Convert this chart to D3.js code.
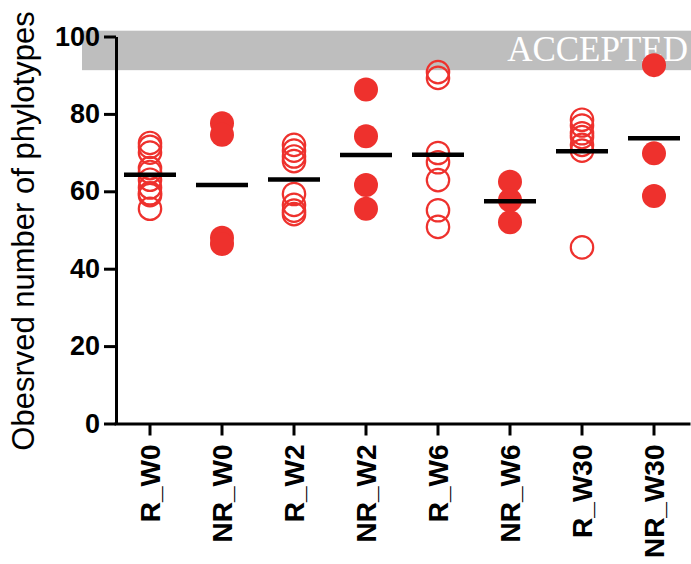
<!DOCTYPE html>
<html>
<head>
<meta charset="utf-8">
<script src="https://cdn.jsdelivr.net/npm/d3@7"></script>
<style>
  html, body { margin: 0; padding: 0; background: #fff; }
  svg { display: block; }
</style>
</head>
<body>
<svg id="chart" width="691" height="564"></svg>
<script>
// Groups along the x axis
const groups = ["R_W0", "NR_W0", "R_W2", "NR_W2", "R_W6", "NR_W6", "R_W30", "NR_W30"];
// Observed phylotype counts per sample, one array per group
const vR_W0   = [72.5, 71.5, 70, 66, 65, 63, 61, 59.5, 59, 55.5];
const vNR_W0  = [77.6, 74.6, 48, 46.4];
const vR_W2   = [72, 70.5, 69, 67.8, 59.3, 56.5, 55, 54.1];
const vNR_W2  = [86.3, 74.2, 61.6, 55.5];
const vR_W6   = [90.8, 89.3, 69.9, 67.5, 62.9, 55.1, 50.8];
const vNR_W6  = [62.5, 57.7, 52.0];
const vR_W30  = [78.5, 77, 75, 74, 72, 70.5, 45.5];
const vNR_W30 = [92.6, 69.8, 58.8];
const groupValues = [vR_W0, vNR_W0, vR_W2, vNR_W2, vR_W6, vNR_W6, vR_W30, vNR_W30];
// Responders drawn as open circles, non-responders filled
const filled = [false, true, false, true, false, true, false, true];
const yTicks = [0, 20, 40, 60, 80, 100];
// Shaded acceptance band (value range)
const bandRange = [91.3, 101.5];
const bandLabel = "ACCEPTED";

const red = "#ee312d";
const svg = d3.select("#chart");

const axisX = 116;
const x = d3.scaleBand().domain(groups).range([114, 690]);
const y = d3.scaleLinear().domain([0, 100]).range([423.5, 36.5]);

// acceptance band
svg.append("rect")
  .attr("x", axisX - 34)
  .attr("y", y(bandRange[1]))
  .attr("width", 691 - (axisX - 34))
  .attr("height", y(bandRange[0]) - y(bandRange[1]))
  .attr("fill", "#bebebe");
svg.append("text")
  .attr("x", 688)
  .attr("y", y((bandRange[0] + bandRange[1]) / 2) + 11)
  .attr("text-anchor", "end")
  .attr("font-family", "'Liberation Serif', 'Times New Roman', serif")
  .attr("font-size", 35)
  .attr("fill", "#ffffff")
  .text(bandLabel);

// y axis
const yAxis = svg.append("g")
  .attr("transform", `translate(${axisX},0)`)
  .call(d3.axisLeft(y).tickValues(yTicks).tickSize(12).tickSizeOuter(0).tickPadding(4));
yAxis.select(".domain").attr("stroke", "#000").attr("stroke-width", 3);
yAxis.selectAll(".tick line").attr("stroke", "#000").attr("stroke-width", 3);
yAxis.selectAll(".tick text")
  .attr("font-family", "'Liberation Sans', Arial, sans-serif")
  .attr("font-weight", "bold")
  .attr("font-size", 27)
  .attr("fill", "#000");

// x axis
const xAxis = svg.append("g")
  .attr("transform", `translate(0,${y(0)})`)
  .call(d3.axisBottom(x).tickSize(12).tickSizeOuter(0));
xAxis.select(".domain").attr("stroke", "#000").attr("stroke-width", 3);
xAxis.selectAll(".tick line").attr("stroke", "#000").attr("stroke-width", 3);
xAxis.selectAll(".tick text")
  .attr("font-family", "'Liberation Sans', Arial, sans-serif")
  .attr("font-weight", "bold")
  .attr("font-size", 28)
  .attr("fill", "#000")
  .attr("text-anchor", "end")
  .attr("transform", "rotate(-90)")
  .attr("x", -21)
  .attr("y", 0)
  .attr("dy", "0.36em");

// y axis title
svg.append("text")
  .attr("transform", `translate(34,${231}) rotate(-90)`)
  .attr("text-anchor", "middle")
  .attr("font-family", "'Liberation Sans', Arial, sans-serif")
  .attr("font-size", 31)
  .attr("fill", "#000")
  .text("Obesrved number of phylotypes");

// points
groups.forEach((g, i) => {
  const cx = x(g) + x.bandwidth() / 2;
  const pts = svg.append("g");
  pts.selectAll("circle")
    .data(groupValues[i])
    .join("circle")
    .attr("cx", cx)
    .attr("cy", d => y(d))
    .attr("r", filled[i] ? 12 : 11.2)
    .attr("fill", filled[i] ? red : "none")
    .attr("stroke", filled[i] ? "none" : red)
    .attr("stroke-width", 2.2);
});

// group means
groups.forEach((g, i) => {
  const cx = x(g) + x.bandwidth() / 2;
  const m = d3.mean(groupValues[i]);
  svg.append("line")
    .attr("x1", cx - 26).attr("x2", cx + 26)
    .attr("y1", y(m)).attr("y2", y(m))
    .attr("stroke", "#000")
    .attr("stroke-width", 4.5);
});
</script>
</body>
</html>
